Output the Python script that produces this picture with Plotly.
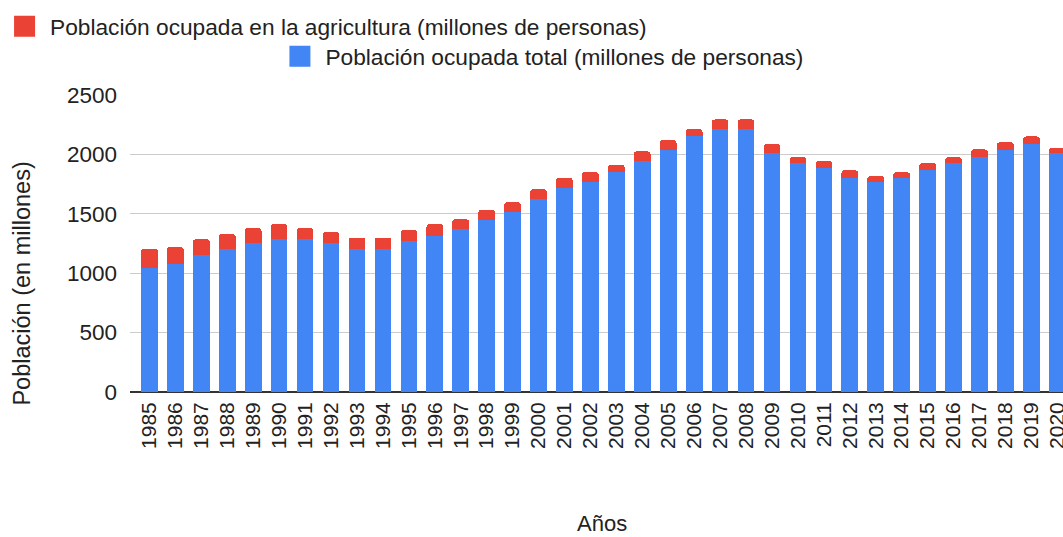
import plotly.graph_objects as go

years = [str(y) for y in range(1985, 2021)]
total = [1046, 1077, 1153, 1204, 1252, 1285, 1285, 1252, 1204, 1204, 1268, 1316,
         1375, 1450, 1515, 1627, 1719, 1767, 1851, 1946, 2039, 2151, 2215, 2215,
         2008, 1929, 1882, 1801, 1770, 1801, 1866, 1929, 1977, 2036, 2087, 2008]
agri = [158, 143, 132, 126, 126, 127, 93, 95, 95, 95, 96, 96,
        79, 82, 82, 79, 82, 84, 62, 79, 81, 62, 79, 79,
        79, 48, 62, 65, 48, 48, 61, 48, 65, 67, 64, 48]
y_ticks = [0, 500, 1000, 1500, 2000, 2500]

name_total = "Población ocupada total (millones de personas)"
name_agri = "Población ocupada en la agricultura (millones de personas)"
BLUE, RED = "#4285F4", "#EA4335"

FONT = "Liberation Sans"
TXT = "#222222"
W, H = 1063, 537
L, R, T, B = 129.5, 0, 95, 145
PW, PH = W - L - R, H - T - B


def px(x):
    return (x - L) / PW


def py(y):
    return (H - B - y) / PH


fig = go.Figure()
fig.add_trace(go.Bar(x=years, y=total, name=name_total, showlegend=False,
                     marker=dict(color=BLUE, line=dict(width=0))))
fig.add_trace(go.Bar(x=years, y=agri, name=name_agri, showlegend=False,
                     marker=dict(color=RED, line=dict(width=0))))
# legend entries
fig.add_trace(go.Scatter(x=[None], y=[None], mode="markers", name=name_agri, legend="legend",
                         marker=dict(symbol="square", size=16, color=RED,
                                     line=dict(color=RED, width=5))))
fig.add_trace(go.Scatter(x=[None], y=[None], mode="markers", name=name_total, legend="legend2",
                         marker=dict(symbol="square", size=16, color=BLUE,
                                     line=dict(color=BLUE, width=5))))

leg_common = dict(xanchor="left", yanchor="top", orientation="h",
                  font=dict(size=22.7, color=TXT, family=FONT), bgcolor="rgba(0,0,0,0)",
                  itemwidth=41, tracegroupgap=0, borderwidth=0)

fig.update_layout(
    width=W, height=H,
    margin=dict(l=L, r=R, t=T, b=B, autoexpand=False),
    barmode="stack", bargap=0.357, barcornerradius=3,
    plot_bgcolor="white", paper_bgcolor="white",
    font=dict(family=FONT, size=21, color=TXT),
    legend=dict(x=px(-1.5), y=py(5), **leg_common),
    legend2=dict(x=px(274), y=py(35), **leg_common),
    xaxis=dict(type="category", range=[-0.75, 35.22], tickangle=-90,
               tickfont=dict(size=21, color=TXT), showgrid=False,
               ticks="", showline=False, ticklabelstandoff=5),
    yaxis=dict(range=[0, 2500], tickvals=y_ticks, ticktext=[str(v) for v in y_ticks],
               tickfont=dict(size=22.5, color=TXT), showgrid=True, gridcolor="#cccccc",
               gridwidth=1, zeroline=True, zerolinecolor="#333333", zerolinewidth=1.5,
               ticks="", ticklabelstandoff=12, showline=False),
    annotations=[
        dict(text="Población (en millones)", x=px(21), y=py(284), xref="paper", yref="paper",
             xanchor="center", yanchor="middle", textangle=-90, showarrow=False,
             font=dict(size=23.5, color=TXT)),
        dict(text="Años", x=px(602), y=py(523), xref="paper", yref="paper",
             xanchor="center", yanchor="middle", showarrow=False,
             font=dict(size=22, color=TXT)),
    ],
)
fig.write_html(
    "out.html",
    config={"displayModeBar": False},
    post_script="document.body.style.margin='0';document.body.style.overflow='hidden';"
                "document.documentElement.style.overflow='hidden';",
)
